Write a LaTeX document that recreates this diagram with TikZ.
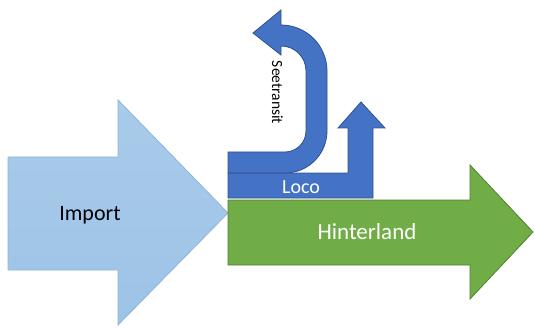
\documentclass[tikz,border=0pt]{standalone}
\usepackage{fontspec}
\setmainfont{Carlito}
\definecolor{impfill}{HTML}{9DC3E6}
\definecolor{impfilltop}{HTML}{A9CBEA}
\definecolor{impdraw}{HTML}{8DB4DE}
\definecolor{bluefill}{HTML}{4472C4}
\definecolor{bluedraw}{HTML}{2F528F}
\definecolor{greenfill}{HTML}{70AD47}
\definecolor{greendraw}{HTML}{507E32}
\tikzset{
  imparrow/.style={top color=impfilltop, bottom color=impfill, draw=impdraw, line width=0.8pt, line join=miter},
  bluearrow/.style={fill=bluefill, draw=bluedraw, line width=0.8pt, line join=miter},
  greenarrow/.style={fill=greenfill, draw=greendraw, line width=0.8pt, line join=miter},
  lbl/.style={inner sep=0pt, font=\fontsize{22}{26}\selectfont}
}
\begin{document}
\begin{tikzpicture}[x=1pt,y=1pt]
\useasboundingbox (0,0) rectangle (535,327);
% Import
\path[imparrow] (8,170) -- (118,170) -- (118,227) -- (228,114) -- (118,2) -- (118,57) -- (8,57) -- cycle;
% Hinterland
\path[greenarrow] (228,127) -- (470,127) -- (470,162) -- (533,95) -- (470,28) -- (470,62) -- (228,62) -- cycle;
% Loco
\path[bluearrow] (228,154) -- (348,154) -- (348,199) -- (338,199) -- (361,225) -- (385,199) -- (373,199) -- (373,129) -- (228,129) -- cycle;
% Seetransit
\path[bluearrow] (228,154) -- (285,154) arc[start angle=270, end angle=360, radius=42]
  -- (327,256) arc[start angle=0, end angle=90, radius=46]
  -- (281,317) -- (253,294) -- (281,272) -- (281,281)
  arc[start angle=90, end angle=0, radius=25]
  -- (306,196) arc[start angle=0, end angle=-90, radius=21]
  -- (228,175) -- cycle;
% labels
\node[lbl, text=black] (import) at (90,112) {Import};
\node[lbl, text=white, font=\fontsize{23}{27}\selectfont] (hinter) at (367,95) {Hinterland};
\node[lbl, text=white, font=\fontsize{20}{24}\selectfont] (loco) at (301,140) {Loco};
\node[lbl, text=black, rotate=-90, font=\fontsize{15.5}{18}\selectfont] (see) at (277.5,234.5) {Seetransit};
\end{tikzpicture}
\end{document}
